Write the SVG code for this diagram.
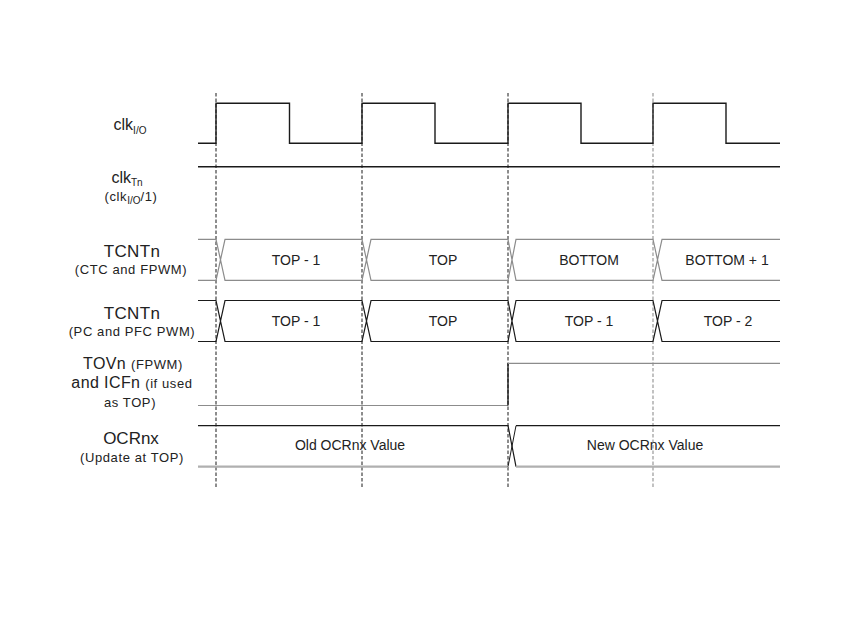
<svg xmlns="http://www.w3.org/2000/svg" width="850" height="638" viewBox="0 0 850 638">
<style>
text{font-family:"Liberation Sans",Arial,sans-serif;fill:#222}
.big{font-size:16px}
.sm{font-size:13px;letter-spacing:0.6px}
.val{font-size:14px;text-anchor:middle}
.lbl{text-anchor:middle}
.sub{font-size:10px;letter-spacing:0}
.blk{stroke:#1a1a1a;stroke-width:1.4;fill:none}
.gry{stroke:#8c8c8c;stroke-width:1.2;fill:none}
.lgt{stroke:#b0b0b0;stroke-width:2.2;fill:none}
.dash{stroke:#1a1a1a;stroke-width:1;stroke-dasharray:3.5 2;fill:none}
.dashg{stroke:#999;stroke-width:1.2;stroke-dasharray:3.5 2;fill:none}
</style>
<rect width="850" height="638" fill="#fff"/>
<g id="guides">
<line class="dash" x1="216" y1="93" x2="216" y2="488"/>
<line class="dash" x1="362" y1="93" x2="362" y2="488"/>
<line class="dash" x1="508" y1="93" x2="508" y2="488"/>
<line class="dashg" x1="653" y1="93" x2="653" y2="488"/>
</g>
<g id="labels">
<text class="big lbl" x="130" y="130">clk<tspan class="sub" dy="4">I/O</tspan></text>
<text class="big lbl" x="127" y="183">clk<tspan class="sub" dy="3">Tn</tspan></text>
<text class="sm lbl" x="131" y="201">(clk<tspan class="sub" dy="3">I/O</tspan><tspan dy="-3">/1)</tspan></text>
<text class="big lbl" x="132" y="257" style="font-size:17px;letter-spacing:0.3px">TCNTn</text>
<text class="sm lbl" x="131" y="274">(CTC and FPWM)</text>
<text class="big lbl" x="132" y="319" style="font-size:17px;letter-spacing:0.3px">TCNTn</text>
<text class="sm lbl" x="132" y="336">(PC and PFC PWM)</text>
<text class="big lbl" x="133" y="369" style="letter-spacing:0.4px">TOVn  <tspan class="sm">(FPWM)</tspan></text>
<text class="big lbl" x="132" y="388" style="letter-spacing:0.4px">and ICFn <tspan class="sm">(if used</tspan></text>
<text class="sm lbl" x="130" y="407">as TOP)</text>
<text class="big lbl" x="131" y="444" style="font-size:17px">OCRnx</text>
<text class="sm lbl" x="132" y="462">(Update at TOP)</text>
</g>
<g id="clkIO">
<polyline class="blk" points="198,143.3 216,143.3 216,103.3 289.5,103.3 289.5,143.3 362,143.3 362,103.3 435,103.3 435,143.3 508,143.3 508,103.3 581,103.3 581,143.3 653,143.3 653,103.3 726,103.3 726,143.3 780,143.3"/>
</g>
<g id="clkTn">
<line class="blk" x1="198" y1="166.7" x2="780" y2="166.7"/>
</g>
<g id="tcnt-ctc">
<path class="gry" d="M198,239.3H216L225,280.3H362L371,239.3H508L516,280.3H653L662,239.3H780 M198,280.3H216L225,239.3H362L371,280.3H508L516,239.3H653L662,280.3H780"/>
<text class="val" x="296" y="265">TOP - 1</text>
<text class="val" x="443" y="265">TOP</text>
<text class="val" x="589" y="265">BOTTOM</text>
<text class="val" x="727" y="265">BOTTOM + 1</text>
</g>
<g id="tcnt-pc">
<path class="blk" style="stroke-width:1.2" d="M198,300.5H216L225,341.5H362L371,300.5H508L516,341.5H653L662,300.5H780 M198,341.5H216L225,300.5H362L371,341.5H508L516,300.5H653L662,341.5H780"/>
<text class="val" x="296" y="326">TOP - 1</text>
<text class="val" x="443" y="326">TOP</text>
<text class="val" x="589" y="326">TOP - 1</text>
<text class="val" x="728" y="326">TOP - 2</text>
</g>
<g id="tov">
<line class="gry" x1="198" y1="405.5" x2="508" y2="405.5"/>
<line class="blk" x1="508" y1="405.5" x2="508" y2="363.3"/>
<line class="gry" x1="508" y1="363.3" x2="780" y2="363.3"/>
</g>
<g id="ocr">
<path class="blk" style="stroke-width:1.2" d="M198,425.7H508L516,466.7 M516,425.7H780"/>
<path class="lgt" d="M198,466.7H508 M516,466.7H780"/>
<line class="blk" style="stroke-width:1" x1="508" y1="466.7" x2="516" y2="425.7"/>
<text class="val" x="350" y="450">Old OCRnx Value</text>
<text class="val" x="645" y="450">New OCRnx Value</text>
</g>
</svg>
